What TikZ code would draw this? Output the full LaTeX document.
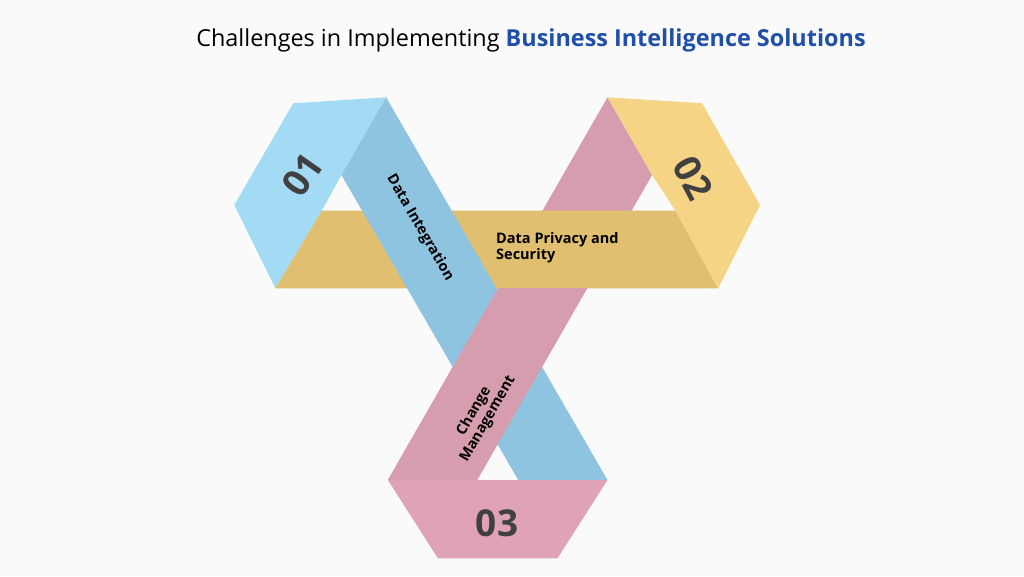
\documentclass[tikz,border=0pt]{standalone}
\usepackage{fontspec}
\setmainfont{Open Sans}
\begin{document}
\begin{tikzpicture}[x=1pt,y=-1pt,
  num/.style={font=\fontsize{37}{40}\selectfont\bfseries, text=numgray},
  lab/.style={font=\fontsize{14.5}{16}\selectfont\bfseries, text=black, align=left}]
\definecolor{lblue}{HTML}{A3DBF5}
\definecolor{dblue}{HTML}{8FC4E0}
\definecolor{gband}{HTML}{E0BF70}
\definecolor{gpanel}{HTML}{F5D585}
\definecolor{pband}{HTML}{D69DAE}
\definecolor{ppanel}{HTML}{E0A3B5}
\definecolor{numgray}{HTML}{404040}
\definecolor{titleblue}{HTML}{1F4FA8}
\fill[white!98!black] (0,0) rectangle (1024,576);
\useasboundingbox (0,0) rectangle (1024,576);
\node (title) at (531,40) {\fontsize{23.4}{26}\selectfont Challenges in Implementing \textcolor{titleblue}{\bfseries Business Intelligence Solutions}};
% pink band (behind gold)
\fill[pband] (607.5,97.3) -- (652.1,175) -- (477.1,480) -- (387.9,480) -- cycle;
% light blue panel
\fill[lblue] (275.4,288.3) -- (234.3,205) -- (293.2,103.3) -- (386.1,97.3) -- (341.4,175) -- (321.8,210.7) -- cycle;
% gold band
\fill[gband] (321.8,210.7) -- (675.4,210.7) -- (718.2,288.3) -- (275.4,288.3) -- cycle;
% gold panel
\fill[gpanel] (607.5,97.3) -- (702.1,103.3) -- (760,205) -- (718.2,288.3) -- (675.4,210.7) -- (652.1,175) -- cycle;
% blue band
\fill[dblue] (386.1,97.3) -- (607.5,480) -- (518.2,480) -- (341.4,175) -- cycle;
% pink band over blue (below gold)
\begin{scope}
\clip (0,288.3) rectangle (1024,576);
\fill[pband] (607.5,97.3) -- (652.1,175) -- (477.1,480) -- (387.9,480) -- cycle;
\end{scope}
% pink panel
\fill[ppanel] (387.9,480) -- (607.5,480) -- (557.5,558.3) -- (437.9,558.3) -- cycle;
\node[num, rotate=55] (n1) at (302.5,175) {01};
\node[num, rotate=-62] (n2) at (693,178) {02};
\node[num] (n3) at (497,523) {03};
\node[lab, rotate=-60, inner sep=0pt] (l1) at (420,228) {Data Integration};
\node[lab, anchor=west, inner sep=0pt] (l2) at (496,248) {Data Privacy and\\Security};
\node[lab, rotate=60, align=center, inner sep=0pt] (l3) at (481,415) {Change\\Management};
\end{tikzpicture}
\end{document}
